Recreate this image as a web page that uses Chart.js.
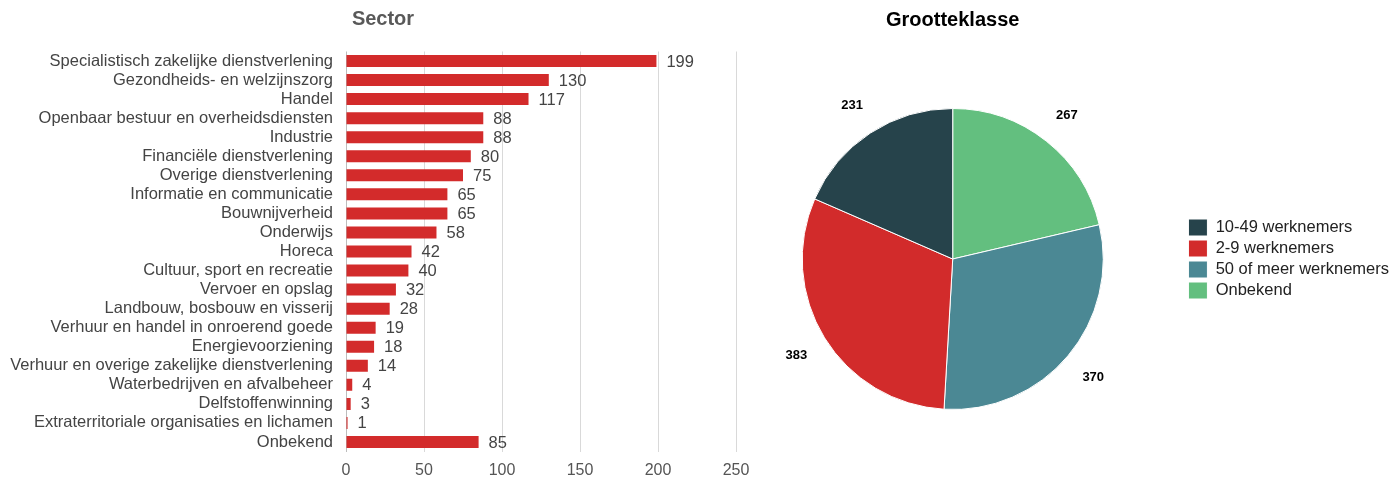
<!DOCTYPE html>
<html>
<head>
<meta charset="utf-8">
<script src="https://cdn.jsdelivr.net/npm/chart.js@4"></script>
<style>
  html, body { margin: 0; padding: 0; background: #fff; width: 1399px; height: 480px; overflow: hidden; }
  #barCanvas { position: absolute; left: 0; top: 0; }
  #pieCanvas { position: absolute; left: 700px; top: 0; }
</style>
</head>
<body>
<canvas id="barCanvas" width="766" height="480"></canvas>
<canvas id="pieCanvas" width="699" height="480"></canvas>
<script>
// ---- Data ----
const sectorLabels = [
  "Specialistisch zakelijke dienstverlening",
  "Gezondheids- en welzijnszorg",
  "Handel",
  "Openbaar bestuur en overheidsdiensten",
  "Industrie",
  "Financiële dienstverlening",
  "Overige dienstverlening",
  "Informatie en communicatie",
  "Bouwnijverheid",
  "Onderwijs",
  "Horeca",
  "Cultuur, sport en recreatie",
  "Vervoer en opslag",
  "Landbouw, bosbouw en visserij",
  "Verhuur en handel in onroerend goede",
  "Energievoorziening",
  "Verhuur en overige zakelijke dienstverlening",
  "Waterbedrijven en afvalbeheer",
  "Delfstoffenwinning",
  "Extraterritoriale organisaties en lichamen",
  "Onbekend"
];
const sectorCounts = [199, 130, 117, 88, 88, 80, 75, 65, 65, 58, 42, 40, 32, 28, 19, 18, 14, 4, 3, 1, 85];
const sectorTicks = [0, 50, 100, 150, 200, 250];

// pie data in drawing order (clockwise from top); legend shown reversed
const sizeLabels = ["Onbekend", "50 of meer werknemers", "2-9 werknemers", "10-49 werknemers"];
const sizeCounts = [267, 370, 383, 231];
const sizeColors = ["#63bf7f", "#4b8894", "#d22b2b", "#26434b"];

const FONT = "'Liberation Sans', Arial, sans-serif";

// value labels next to bars
const barValueLabels = {
  id: 'barValueLabels',
  afterDatasetsDraw(chart) {
    const ctx = chart.ctx;
    const meta = chart.getDatasetMeta(0);
    ctx.save();
    ctx.font = "16.5px " + FONT;
    ctx.fillStyle = "#444444";
    ctx.textAlign = "left";
    ctx.textBaseline = "middle";
    meta.data.forEach((bar, i) => {
      ctx.fillText(String(chart.data.datasets[0].data[i]), bar.x + 10, bar.y + 1);
    });
    ctx.restore();
  }
};

new Chart(document.getElementById('barCanvas'), {
  type: 'bar',
  data: {
    labels: sectorLabels,
    datasets: [{
      data: sectorCounts,
      backgroundColor: "#d32b2b",
      borderWidth: 0,
      categoryPercentage: 1,
      barPercentage: 0.63
    }]
  },
  options: {
    indexAxis: 'y',
    responsive: false,
    animation: false,
    layout: { padding: { left: 0, right: 0, top: 0, bottom: 0 } },
    plugins: {
      legend: { display: false },
      tooltip: { enabled: false },
      title: {
        display: true,
        text: "Sector",
        color: "#595959",
        font: { family: FONT, size: 20, weight: 'bold' },
        padding: { top: 7, bottom: 20.5 }
      }
    },
    scales: {
      x: {
        min: 0, max: 250,
        afterBuildTicks(scale) { scale.ticks = sectorTicks.map(v => ({ value: v })); },
        afterFit(scale) { scale.height = 28.5; },
        border: { display: false },
        grid: {
          drawTicks: false,
          color: ctx => (ctx.tick && ctx.tick.value === 0) ? "#bdbdbd" : "#d9d9d9",
          lineWidth: 1
        },
        ticks: { color: "#555555", font: { family: FONT, size: 16 }, padding: 9 }
      },
      y: {
        afterFit(scale) { scale.width = 346; },
        border: { display: false },
        grid: { display: false, drawTicks: false },
        ticks: { autoSkip: false, color: "#444444", font: { family: FONT, size: 16.5 }, padding: 13 }
      },
      // empty right-hand gutter so the plot ends at 250 while the title stays centred on the canvas
      gutter: {
        type: 'linear',
        position: 'right',
        afterFit(scale) { scale.width = 30; },
        border: { display: false },
        grid: { display: false, drawTicks: false },
        ticks: { display: false }
      }
    }
  },
  plugins: [barValueLabels]
});

// labels outside pie slices
const pieOuterLabels = {
  id: 'pieOuterLabels',
  afterDatasetsDraw(chart) {
    const ctx = chart.ctx;
    const meta = chart.getDatasetMeta(0);
    ctx.save();
    ctx.font = "bold 13px " + FONT;
    ctx.fillStyle = "#000000";
    ctx.textAlign = "center";
    ctx.textBaseline = "middle";
    meta.data.forEach((arc, i) => {
      const mid = (arc.startAngle + arc.endAngle) / 2;
      const r = arc.outerRadius * 1.22;
      ctx.fillText(String(chart.data.datasets[0].data[i]), arc.x + Math.cos(mid) * r, arc.y + Math.sin(mid) * r);
    });
    ctx.restore();
  }
};

new Chart(document.getElementById('pieCanvas'), {
  type: 'pie',
  data: {
    labels: sizeLabels,
    datasets: [{
      data: sizeCounts,
      backgroundColor: sizeColors,
      borderColor: "#ffffff",
      borderWidth: 1
    }]
  },
  options: {
    responsive: false,
    animation: false,
    layout: { padding: { left: 21, right: 0, top: 0, bottom: 70 } },
    plugins: {
      tooltip: { enabled: false },
      title: {
        display: true,
        fullSize: false,
        text: "Grootteklasse",
        color: "#000000",
        font: { family: FONT, size: 20, weight: 'bold' },
        padding: { top: 8.5, bottom: 75.5 }
      },
      legend: {
        position: 'right',
        fullSize: false,
        align: 'center',
        reverse: true,
        labels: {
          boxWidth: 19,
          boxHeight: 17,
          padding: 4,
          color: "#222222",
          font: { family: FONT, size: 16.5 }
        }
      }
    }
  },
  plugins: [pieOuterLabels]
});
</script>
</body>
</html>
